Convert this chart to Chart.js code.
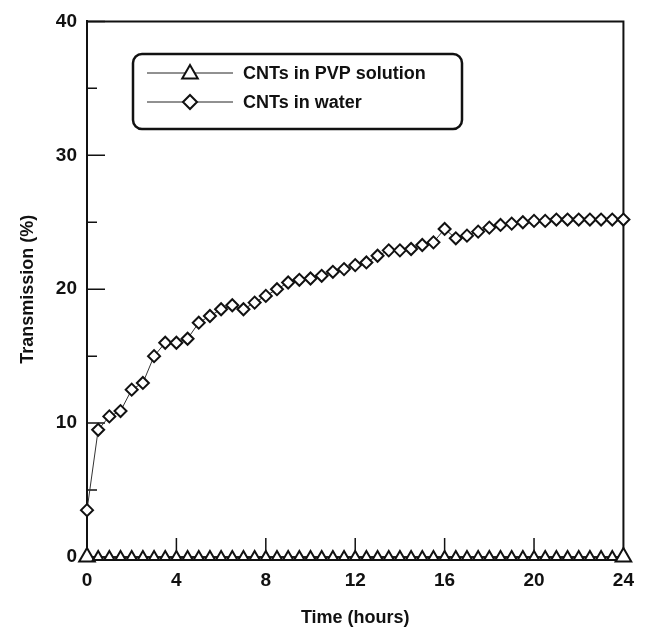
<!DOCTYPE html>
<html>
<head>
<meta charset="utf-8">
<title>Transmission vs time</title>
<script src="https://cdn.jsdelivr.net/npm/chart.js@4.4.0/dist/chart.umd.min.js"></script>
<style>
  html, body { margin: 0; padding: 0; background: #fff; }
</style>
</head>
<body>
<canvas id="transChart" width="646" height="629"></canvas>
<script>
// sampling times (hours)
const hours = [0, 0.5, 1, 1.5, 2, 2.5, 3, 3.5, 4, 4.5, 5, 5.5, 6, 6.5, 7, 7.5, 8, 8.5,
  9, 9.5, 10, 10.5, 11, 11.5, 12, 12.5, 13, 13.5, 14, 14.5, 15, 15.5, 16, 16.5,
  17, 17.5, 18, 18.5, 19, 19.5, 20, 20.5, 21, 21.5, 22, 22.5, 23, 23.5, 24];

// transmission (%)
const pvpTransmission = [0, 0, 0, 0, 0, 0, 0, 0, 0, 0, 0, 0, 0, 0, 0, 0, 0, 0,
  0, 0, 0, 0, 0, 0, 0, 0, 0, 0, 0, 0, 0, 0, 0, 0,
  0, 0, 0, 0, 0, 0, 0, 0, 0, 0, 0, 0, 0, 0, 0];
const waterTransmission = [3.5, 9.5, 10.5, 10.9, 12.5, 13.0, 15.0, 16.0, 16.0, 16.3, 17.5, 18.0, 18.5, 18.8, 18.5, 19.0, 19.5, 20.0,
  20.5, 20.7, 20.8, 21.0, 21.3, 21.5, 21.8, 22.0, 22.5, 22.9, 22.9, 23.0, 23.3, 23.5, 24.5, 23.8,
  24.0, 24.3, 24.6, 24.8, 24.9, 25.0, 25.1, 25.1, 25.2, 25.2, 25.2, 25.2, 25.2, 25.2, 25.2];

const seriesLabels = ['CNTs in PVP solution', 'CNTs in water'];
const xMajorTicks = [4, 8, 12, 16, 20];
const yMajorTicks = [0, 10, 20, 30, 40];
const yMinorTicks = [5, 15, 25, 35];

const INK = '#111';
const FONT = 'Liberation Sans, Arial, Helvetica, sans-serif';

function toPoints(ys) {
  return hours.map((h, i) => ({ x: h, y: ys[i] }));
}

const lastIdx = hours.length - 1;

// inward ticks + top/right frame
const frameTicks = {
  id: 'frameTicks',
  beforeDatasetsDraw(chart) {
    const { ctx, chartArea: a, scales } = chart;
    ctx.save();
    ctx.strokeStyle = INK;
    ctx.lineWidth = 2;
    ctx.beginPath();
    ctx.moveTo(a.left, a.top);
    ctx.lineTo(a.right, a.top);
    ctx.lineTo(a.right, a.bottom);
    ctx.stroke();
    ctx.lineWidth = 1.5;
    ctx.beginPath();
    yMajorTicks.forEach(v => {
      const y = scales.y.getPixelForValue(v);
      ctx.moveTo(a.left, y);
      ctx.lineTo(a.left + 18, y);
    });
    yMinorTicks.forEach(v => {
      const y = scales.y.getPixelForValue(v);
      ctx.moveTo(a.left, y);
      ctx.lineTo(a.left + 10, y);
    });
    xMajorTicks.forEach(v => {
      const x = scales.x.getPixelForValue(v);
      ctx.moveTo(x, a.bottom);
      ctx.lineTo(x, a.bottom - 19);
    });
    ctx.stroke();
    ctx.restore();
  }
};

// boxed legend inside the plot
const boxLegend = {
  id: 'boxLegend',
  afterDraw(chart) {
    const { ctx } = chart;
    const bx = 133, by = 54, bw = 329, bh = 75;
    ctx.save();
    ctx.strokeStyle = INK;
    ctx.lineWidth = 2.5;
    ctx.fillStyle = '#fff';
    ctx.beginPath();
    ctx.roundRect(bx, by, bw, bh, 9);
    ctx.fill();
    ctx.stroke();
    chart.data.datasets.forEach((ds, i) => {
      const y = 73 + i * 29;
      ctx.strokeStyle = '#222';
      ctx.lineWidth = 1;
      ctx.beginPath();
      ctx.moveTo(147, y);
      ctx.lineTo(233, y);
      ctx.stroke();
      ctx.strokeStyle = INK;
      ctx.fillStyle = '#fff';
      ctx.lineWidth = 2;
      Chart.helpers.drawPoint(ctx, {
        pointStyle: ds.pointStyle,
        radius: i === 0 ? 9 : 7,
        borderWidth: 2,
        rotation: 0
      }, 190, i === 0 ? y + 1 : y);
      ctx.fillStyle = INK;
      ctx.font = 'bold 18px ' + FONT;
      ctx.textBaseline = 'middle';
      ctx.textAlign = 'left';
      ctx.fillText(ds.label, 243, y + 1);
    });
    ctx.restore();
  }
};

const transConfig = {
  type: 'line',
  data: {
    datasets: [{
      label: seriesLabels[0],
      data: toPoints(pvpTransmission),
      borderColor: '#333',
      borderWidth: 1,
      pointStyle: 'triangle',
      pointRadius: ctx => (ctx.dataIndex === 0 || ctx.dataIndex === lastIdx) ? 9 : 6,
      pointBorderColor: INK,
      pointBackgroundColor: '#fff',
      pointBorderWidth: 2,
      clip: false
    },
    {
      label: seriesLabels[1],
      data: toPoints(waterTransmission),
      borderColor: '#333',
      borderWidth: 1,
      pointStyle: 'rectRot',
      pointRadius: 6,
      pointBorderColor: INK,
      pointBackgroundColor: '#fff',
      pointBorderWidth: 2,
      clip: false
    }]
  },
  options: {
    responsive: false,
    animation: false,
    layout: { padding: { left: 0, right: 19, top: 15, bottom: 0 } },
    plugins: {
      legend: { display: false },
      tooltip: { enabled: false }
    },
    scales: {
      x: {
        type: 'linear',
        min: 0,
        max: 24,
        afterFit: s => { s.height = 72; },
        ticks: { stepSize: 4, color: INK, padding: 12, font: { family: FONT, size: 19, weight: 'bold' } },
        grid: { display: false, drawTicks: false },
        border: { display: true, color: INK, width: 2 },
        title: {
          display: true,
          text: 'Time (hours)',
          color: INK,
          padding: { top: 2, bottom: 0 },
          font: { family: FONT, size: 18, weight: 'bold' }
        }
      },
      y: {
        min: 0,
        max: 40,
        afterFit: s => { s.width = 87; },
        ticks: { stepSize: 10, color: INK, padding: 10, font: { family: FONT, size: 19, weight: 'bold' } },
        grid: { display: false, drawTicks: false },
        border: { display: true, color: INK, width: 2 },
        title: {
          display: true,
          text: 'Transmission (%)',
          color: INK,
          padding: { top: 17, bottom: 0 },
          font: { family: FONT, size: 18, weight: 'bold' }
        }
      }
    }
  },
  plugins: [frameTicks, boxLegend]
};

const transChart = new Chart(document.getElementById('transChart'), transConfig);
</script>
</body>
</html>
